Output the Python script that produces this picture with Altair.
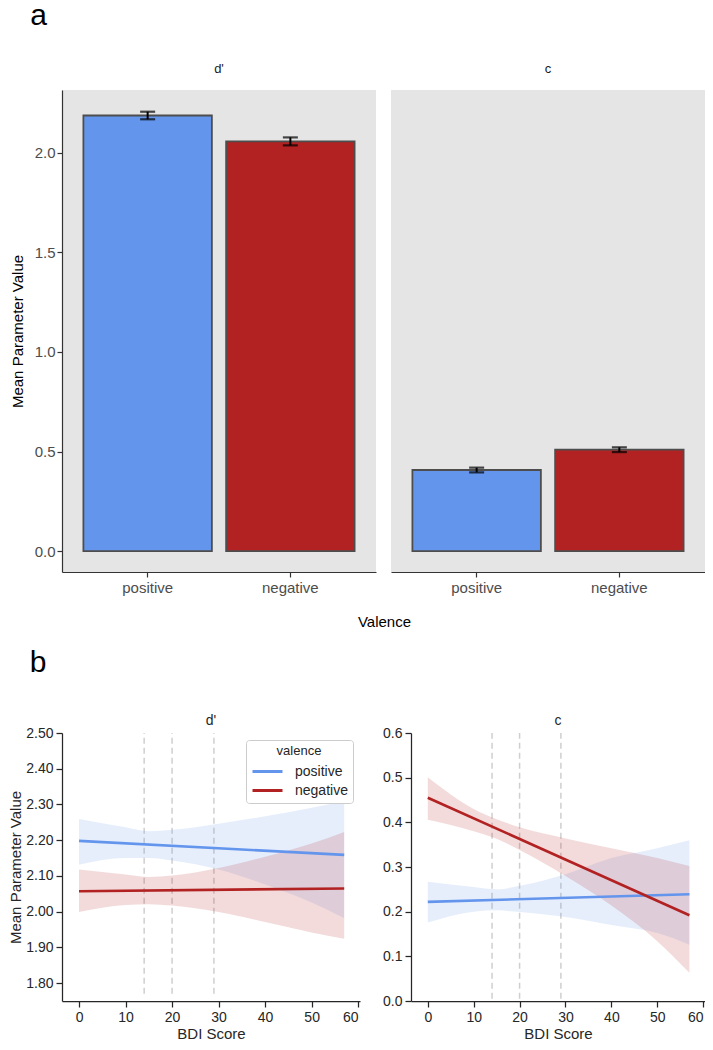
import altair as alt
import pandas as pd

FONT = "Liberation Sans"

# ---------------- panel a data ----------------
valence = ["positive", "negative"]
colors = ["#6495ED", "#B22222"]
dprime_mean = [2.187, 2.057]
dprime_se = [0.019, 0.020]
c_mean = [0.407, 0.509]
c_se = [0.012, 0.012]
bar_ticks = [0.0, 0.5, 1.0, 1.5, 2.0]

# ---------------- panel b data ----------------
bdi_line_x = [0, 57]
dprime_pos_line = [2.198, 2.159]
dprime_neg_line = [2.057, 2.065]
c_pos_line = [0.222, 0.239]
c_neg_line = [0.455, 0.192]

band_x = [0, 10, 15, 20, 30, 40, 50, 57]
dprime_pos_hi = [2.259, 2.236, 2.225, 2.229, 2.246, 2.267, 2.291, 2.310]
dprime_pos_lo = [2.131, 2.150, 2.150, 2.143, 2.118, 2.076, 2.026, 1.982]
dprime_neg_hi = [2.118, 2.104, 2.097, 2.101, 2.122, 2.154, 2.191, 2.223]
dprime_neg_lo = [1.999, 2.019, 2.021, 2.017, 1.999, 1.971, 1.942, 1.924]
c_pos_hi = [0.267, 0.255, 0.250, 0.258, 0.284, 0.320, 0.342, 0.360]
c_pos_lo = [0.176, 0.200, 0.203, 0.199, 0.188, 0.170, 0.152, 0.126]
c_neg_hi = [0.501, 0.430, 0.407, 0.389, 0.364, 0.342, 0.320, 0.302]
c_neg_lo = [0.406, 0.380, 0.363, 0.338, 0.280, 0.214, 0.134, 0.063]

bdi_cutoffs = [14, 20, 29]
bdi_ticks = [0, 10, 20, 30, 40, 50, 60]
dprime_ticks = [1.8, 1.9, 2.0, 2.1, 2.2, 2.3, 2.4, 2.5]
c_ticks = [0.0, 0.1, 0.2, 0.3, 0.4, 0.5, 0.6]


# ---------------- panel a ----------------
def bar_panel(title, means, ses, first):
    df = pd.DataFrame({
        "valence": valence,
        "mean": means,
        "lo": [m - s for m, s in zip(means, ses)],
        "hi": [m + s for m, s in zip(means, ses)],
    })
    yscale = alt.Scale(domain=[-0.105, 2.315], nice=False, zero=False)
    if first:
        yaxis = alt.Axis(values=bar_ticks, format=".1f", grid=False,
                         labelFontSize=15, labelColor="#4D4D4D", labelPadding=2,
                         tickSize=5, tickColor="#333333", tickWidth=1.2,
                         domainColor="#333333", domainWidth=1.2,
                         title="Mean Parameter Value", titleFontSize=15,
                         titleColor="#000000", titleFontWeight="normal",
                         titlePadding=9)
    else:
        yaxis = None
    xaxis = alt.Axis(labelAngle=0, labelFontSize=15, labelColor="#4D4D4D",
                     labelPadding=3, tickSize=5, tickColor="#333333",
                     tickWidth=1.2, domainColor="#333333", domainWidth=1.2,
                     title="Valence" if first else None, titleFontSize=15,
                     titleColor="#000000", titleFontWeight="normal",
                     titleX=322, titleAlign="center", titlePadding=19)
    x = alt.X("valence:N", sort=valence,
              scale=alt.Scale(paddingInner=0.1, paddingOuter=0.15), axis=xaxis)
    base = alt.Chart(df)
    bars = base.mark_bar(stroke="#4D4D4D", strokeWidth=1.8).encode(
        x=x,
        y=alt.Y("mean:Q", scale=yscale, axis=yaxis, title="Mean Parameter Value"),
        y2=alt.datum(0),
        color=alt.Color("valence:N", scale=alt.Scale(domain=valence, range=colors),
                        legend=None),
    )
    rule = base.mark_rule(color="black", strokeWidth=2).encode(
        x=x,
        y=alt.Y("lo:Q", scale=yscale, title="Mean Parameter Value"),
        y2="hi:Q",
    )
    cap_lo = base.mark_tick(color="black", size=15, thickness=2.2).encode(
        x=x, y=alt.Y("lo:Q", scale=yscale, title="Mean Parameter Value"))
    cap_hi = base.mark_tick(color="black", size=15, thickness=2.2).encode(
        x=x, y=alt.Y("hi:Q", scale=yscale, title="Mean Parameter Value"))
    return alt.layer(bars, rule, cap_lo, cap_hi).properties(
        width=314, height=482,
        view=alt.ViewBackground(fill="#E5E5E5", stroke=None),
        title=alt.TitleParams(title, fontSize=13, fontWeight="normal",
                              color="#1A1A1A", offset=14, font=FONT),
    )


row_a = alt.hconcat(
    bar_panel("d'", dprime_mean, dprime_se, True),
    bar_panel("c", c_mean, c_se, False),
    spacing=15, bounds="flush",
    title=alt.TitleParams("a", anchor="start", fontSize=30, fontWeight="normal",
                          color="#000000", offset=32, dx=20, font=FONT),
)


# ---------------- panel b ----------------
def reg_panel(title, pos_line, neg_line, pos_hi, pos_lo, neg_hi, neg_lo,
              ydomain, yticks, yfmt, vline_lo, first, width):
    band_df = pd.DataFrame({
        "valence": ["positive"] * len(band_x) + ["negative"] * len(band_x),
        "x": band_x + band_x,
        "lo": pos_lo + neg_lo,
        "hi": pos_hi + neg_hi,
    })
    line_df = pd.DataFrame({
        "valence": ["positive"] * 2 + ["negative"] * 2,
        "x": bdi_line_x + bdi_line_x,
        "y": pos_line + neg_line,
    })
    vline_df = pd.DataFrame({
        "x": bdi_cutoffs,
        "y1": [vline_lo] * len(bdi_cutoffs),
        "y2": [ydomain[1]] * len(bdi_cutoffs),
    })
    xscale = alt.Scale(domain=[-3.66, 60.4], nice=False, zero=False)
    yscale = alt.Scale(domain=ydomain, nice=False, zero=False)
    ytitle = "Mean Parameter Value" if first else None
    xaxis = alt.Axis(values=bdi_ticks, grid=False, labelFontSize=14,
                     labelColor="#262626", labelPadding=3, tickSize=6,
                     tickColor="#262626", tickWidth=1.25, domainColor="#262626",
                     domainWidth=1.25, title="BDI Score", titleFontSize=15,
                     titleColor="#262626", titleFontWeight="normal",
                     titlePadding=2, labelFlush=5)
    yaxis = alt.Axis(values=yticks, format=yfmt, grid=False, labelFontSize=14,
                     labelColor="#262626", labelPadding=3, tickSize=6,
                     tickColor="#262626", tickWidth=1.25, domainColor="#262626",
                     domainWidth=1.25, title=ytitle, titleFontSize=15,
                     titleColor="#262626", titleFontWeight="normal",
                     titlePadding=2)
    x = alt.X("x:Q", scale=xscale, axis=xaxis, title="BDI Score")

    layers = [
        alt.Chart(vline_df).mark_rule(
            color="#CFCFCF", strokeWidth=1.5, strokeDash=[6, 4]).encode(
            x=x, y=alt.Y("y1:Q", scale=yscale, axis=yaxis, title=ytitle),
            y2="y2:Q")
    ]
    for v, col in zip(valence, colors):
        layers.append(
            alt.Chart(band_df).transform_filter(alt.datum.valence == v)
            .mark_area(color=col, opacity=0.16, interpolate="monotone").encode(
                x=x,
                y=alt.Y("lo:Q", scale=yscale, axis=yaxis, title=ytitle),
                y2="hi:Q",
            )
        )
    if first:
        legend = alt.Legend(title="valence", orient="top-right", offset=7,
                            titleAnchor="middle", titleFontSize=13,
                            titleFontWeight="normal", titleColor="#262626",
                            labelFontSize=14, labelColor="#262626",
                            symbolType="M-1,0L2.333,0", symbolStrokeWidth=3,
                            symbolSize=324, labelOffset=23,
                            strokeColor="#CCCCCC", fillColor="white",
                            cornerRadius=3, padding=5, rowPadding=1,
                            titlePadding=3)
    else:
        legend = None
    layers.append(
        alt.Chart(line_df).mark_line(strokeWidth=2.6).encode(
            x=x,
            y=alt.Y("y:Q", scale=yscale, axis=yaxis, title=ytitle),
            color=alt.Color("valence:N", scale=alt.Scale(domain=valence, range=colors),
                            legend=legend),
        )
    )
    return alt.layer(*layers).properties(
        width=width, height=268,
        view=alt.ViewBackground(fill="white", stroke=None),
        title=alt.TitleParams(title, fontSize=14, fontWeight="normal",
                              color="#262626", offset=-2, font=FONT),
    )


row_b = alt.hconcat(
    reg_panel("d'", dprime_pos_line, dprime_neg_line, dprime_pos_hi, dprime_pos_lo,
              dprime_neg_hi, dprime_neg_lo, [1.75, 2.5], dprime_ticks, ".2f",
              1.77, True, 298),
    reg_panel("c", c_pos_line, c_neg_line, c_pos_hi, c_pos_lo, c_neg_hi, c_neg_lo,
              [0.0, 0.6], c_ticks, ".1f", 0.005, False, 294),
    spacing=51, bounds="flush",
    title=alt.TitleParams("b", anchor="start", fontSize=30, fontWeight="normal",
                          color="#000000", offset=36, dx=21, font=FONT),
).resolve_scale(color="independent").resolve_legend(color="independent")

chart = alt.vconcat(row_a, row_b, spacing=19).resolve_scale(
    color="independent"
).properties(
    padding={"left": 0, "top": -7, "right": 0, "bottom": 0},
).configure(font=FONT).configure_view(stroke=None)

chart.save("out.html", embed_options={"renderer": "svg", "actions": False})
